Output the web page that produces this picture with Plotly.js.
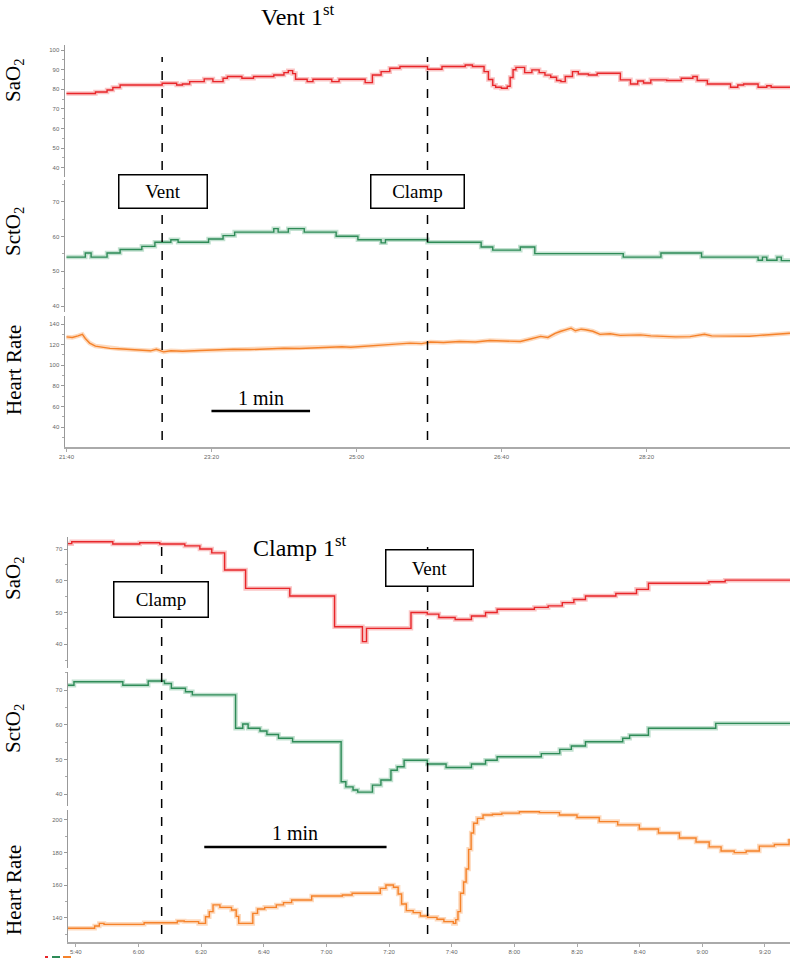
<!DOCTYPE html>
<html>
<head>
<meta charset="utf-8">
<script src="https://cdn.plot.ly/plotly-3.0.1.min.js"></script>
<style>
  html, body { margin: 0; padding: 0; background: #fff; }
  #chart { width: 791px; height: 959px; }
</style>
</head>
<body>
<div id="chart"></div>
<script>
// ---- Vent 1st (time in seconds, 21:40 = 1300) ----
const sa_top_t = [1300,1320,1328,1332,1337,1366,1376,1380,1385,1395,1401,1408,1411,1421,1429,1443,1448,1450,1453,1456,1458,1466,1470,1483,1488,1506,1511,1517,1523,1530,1549,1559,1575,1580,1588,1591,1594,1596,1600,1604,1606,1608,1610,1616,1621,1626,1630,1634,1638,1641,1644,1649,1653,1660,1666,1682,1689,1694,1698,1703,1714,1724,1732,1735,1742,1758,1763,1767,1777,1783,1786,1799];
const sa_top_v = [77.8,78.6,79.6,80.9,82.2,83.1,82.2,82.7,83.9,85.3,83.9,85.6,86.5,85.6,86.5,87.3,87.3,88.5,89.5,88,85.1,83.9,85.1,83.9,85.1,83.4,87.3,89,90.7,91.6,90.2,91.6,92.4,91.6,89,85,82,81,80.5,81.5,86,90,91.2,88.5,89.9,88.5,87.2,86.1,84.5,83.9,86.5,89,87.8,87.3,88.2,84.8,82.7,84.2,83.2,84.8,84.5,85.6,86.5,84.5,82.7,81,82.2,82.7,81,81.8,81,81];

const sct_top_t = [1300,1313,1317,1328,1337,1352,1361,1372,1377,1398,1408,1416,1443,1446,1453,1464,1486,1501,1517,1520,1549,1586,1594,1613,1623,1684,1710,1738,1777,1780,1783,1790,1793,1799];
const sct_top_v = [54.1,55.3,54.1,55.3,56.3,57.2,58.4,59.1,58.4,59.3,60.3,61.3,62.3,61.3,62.3,61.3,60.1,59.1,58.2,59.1,58.4,57,56.1,57,55.1,54.1,55.3,54.1,53.2,54.1,53.2,54.1,53.1,53.1];

const hr_top_t = [1300,1304,1308,1311,1313,1316,1320,1325,1330,1336,1342,1350,1358,1362,1367,1372,1380,1392,1405,1415,1427,1440,1450,1461,1475,1490,1496,1505,1516,1527,1537,1545,1551,1560,1571,1582,1592,1602,1613,1620,1627,1632,1637,1641,1644,1648,1651,1655,1658,1663,1668,1675,1682,1690,1696,1703,1710,1720,1730,1735,1740,1745,1751,1760,1771,1778,1785,1792,1799];
const hr_top_v = [127.5,127,128.5,130,126,121.5,118.6,117.5,116.4,116,115.4,114.5,114,115.5,113,114,113.5,114.3,114.8,115.5,115.2,116,116.5,116.2,117,118,117.5,118.5,120,120.5,121.5,121,122.5,122,123,122.5,124,123.5,123,125.5,128,127,131,133,134,136,133.5,135,134.5,133,130,130.5,129,129.5,129.5,128.5,128,127.5,127.8,129,130,128.5,128.5,128,128.2,129,129.5,130.5,131];

const top_tick_vals = [1300, 1400, 1500, 1600, 1700];
const top_tick_text = ["21:40", "23:20", "25:00", "26:40", "28:20"];
const vent_time_top = 1366;
const clamp_time_top = 1549;

// ---- Clamp 1st (time in seconds, 5:40 = 340) ----
const sa_bot_t = [337.5,338.7,351.8,360.4,366.8,374.8,379.6,383.4,387.5,394.2,408.3,422.6,431.5,432.8,447,452.2,455.9,461.1,466.3,470.8,474.5,486.4,490.8,495.3,499,502.7,512.4,519,522.8,542.1,547.3,568];
const sa_bot_v = [71.7,72.3,71.6,72,71.6,71,70,68.8,63.4,57.6,55.2,45.5,40.8,45,50,49.5,48.4,47.8,48.9,50,51,51.6,52.1,53.1,54.1,55.2,56,57.3,59.2,59.7,60.2,60.2];

const sct_bot_t = [337.5,339.4,355,363.1,368.3,370.5,375,377.2,391,393.3,395,398.8,401,404.7,409.2,424.7,426.2,428.5,430,434.7,437.4,440.6,442.6,444.8,452.2,458.2,466.3,470.8,474.5,488.6,494.5,498.2,502.7,514.6,516.8,522.8,544.3,568];
const sct_bot_v = [71.4,72.4,71.4,72.6,71.9,70.5,69.5,68.6,59,60.2,59,58.2,57.2,56.1,55.1,43.6,42.1,41.2,40.6,42.6,44.1,46.9,47.9,49.8,48.7,47.7,48.7,49.8,50.8,51.7,52.9,53.9,55.1,56.1,57,59,60.4,60.4];

const hr_bot_t = [337.4,346,347.5,349,361.8,372.4,374.6,379.2,381.4,382.6,383.8,386,389.7,391.2,392,396.5,398,400.3,404,406.3,408.9,415.3,425.1,428.2,431.2,437.2,439,441.4,442.9,444,445.5,447.7,450,452.3,455.3,457.5,460.5,461.3,462,462.8,463.8,464.6,465.4,466.2,467,468.2,470,473,476,481.6,488,494.4,500,507.1,513,519.9,526,532.7,538,542.2,546,550.2,554,558.2,563,567.7];
const hr_bot_v = [133.7,135.1,136.7,136.1,137.1,138.2,137.8,136.7,140.8,143.9,148,146.5,144.9,141,136.7,142.8,145.5,146.5,148,149.4,151,153.5,154.1,155.1,155.1,158.1,160.2,158.8,154.7,148.6,144.5,143.3,141.2,140.4,139.2,137.8,136.7,139,143.9,155.1,162,170,182,192,198,201,203,203.5,204.2,205,204.5,203,201.5,199,197,194.5,192,189,186.5,183.5,181,180,181,184,185,188.5];

const bot_tick_vals = [340,360,380,400,420,440,460,480,500,520,540,560];
const bot_tick_text = ["5:40","6:00","6:20","6:40","7:00","7:20","7:40","8:00","8:20","8:40","9:00","9:20"];
const clamp_time_bot = 367.4;
const vent_time_bot = 452.3;

const RED = "#e8262a", GREEN = "#2e8b57", ORANGE = "#f5822a";
const HALO = { [RED]: "rgba(240,90,90,0.35)", [GREEN]: "rgba(80,170,120,0.35)", [ORANGE]: "rgba(250,160,90,0.4)" };

const W = 791, H = 959;
const px = (x) => x / W;
const py = (y) => 1 - y / H;

const series = (x, y, color, xa, ya, shape) => [
    { x, y, xaxis: xa, yaxis: ya, mode: "lines", type: "scatter", hoverinfo: "skip",
      line: { color: HALO[color], width: 4.5, shape } },
    { x, y, xaxis: xa, yaxis: ya, mode: "lines", type: "scatter", hoverinfo: "skip",
      line: { color, width: 1.4, shape } },
];

const tick_font = { family: "Liberation Sans, Arial", size: 6, color: "#666" };

const y_axis = (domain, range, dtick, minor_dtick, anchor) => ({
    domain, range, dtick, anchor,
    showline: true, linecolor: "#999", linewidth: 1.5,
    ticks: "outside", ticklen: 3, tickcolor: "#999", tickwidth: 1,
    tickfont: tick_font, showgrid: false, zeroline: false, fixedrange: true,
    minor: { dtick: minor_dtick, ticks: "outside", ticklen: 2, tickcolor: "#aaa", showgrid: false },
});

const x_axis = (domain, range, tickvals, ticktext, anchor) => ({
    domain, range, tickvals, ticktext, anchor,
    showline: true, linecolor: "#aaa", linewidth: 1.5,
    ticks: "outside", ticklen: 3, tickcolor: "#aaa",
    tickfont: tick_font, showgrid: false, zeroline: false, fixedrange: true,
});

const serif = (size) => ({ family: "Liberation Serif, Times New Roman, serif", size, color: "#000" });

const label = (text, y) => ({
    text, xref: "paper", yref: "paper", x: px(14), y: py(y), textangle: -90,
    showarrow: false, font: serif(21), xanchor: "center", yanchor: "middle",
});

const box = (text, cx, cy, w, h) => ({
    text, xref: "paper", yref: "paper", x: px(cx), y: py(cy), showarrow: false,
    width: w, height: h, bordercolor: "#000", borderwidth: 1.5, borderpad: 0,
    bgcolor: "#fff", font: serif(19), xanchor: "center", yanchor: "middle",
});

const dashed = (t, xref, y_from, y_to) => ({
    type: "line", xref, yref: "paper", x0: t, x1: t, y0: py(y_from), y1: py(y_to),
    line: { color: "#000", width: 1.5, dash: "dash" },
});

const plot_vent_clamp_chart = (chartId) => {
    const data = [
        ...series(sa_top_t, sa_top_v, RED, "x", "y", "hv"),
        ...series(sct_top_t, sct_top_v, GREEN, "x", "y2", "hv"),
        ...series(hr_top_t, hr_top_v, ORANGE, "x", "y3", "linear"),
        ...series(sa_bot_t, sa_bot_v, RED, "x2", "y4", "hv"),
        ...series(sct_bot_t, sct_bot_v, GREEN, "x2", "y5", "hv"),
        ...series(hr_bot_t, hr_bot_v, ORANGE, "x2", "y6", "hv"),
    ];

    const layout = {
        width: W, height: H,
        margin: { l: 0, r: 0, t: 0, b: 0 },
        paper_bgcolor: "#fff", plot_bgcolor: "rgba(0,0,0,0)",
        showlegend: false,
        xaxis: x_axis([px(65), px(790)], [1299, 1799], top_tick_vals, top_tick_text, "y3"),
        xaxis2: x_axis([px(68), px(790)], [337.5, 568], bot_tick_vals, bot_tick_text, "y6"),
        yaxis: y_axis([py(177), py(45)], [35.2, 102.6], 10, 5, "x"),
        yaxis2: y_axis([py(312), py(180)], [38.3, 76.3], 10, 5, "x"),
        yaxis3: y_axis([py(447), py(316)], [20.6, 147.8], 20, 10, "x"),
        yaxis4: y_axis([py(668), py(537)], [32.5, 73.8], 10, 5, "x2"),
        yaxis5: y_axis([py(806), py(672)], [36.6, 75.2], 10, 5, "x2"),
        yaxis6: y_axis([py(942), py(810)], [125.3, 206.1], 20, 10, "x2"),
        shapes: [
            dashed(vent_time_top, "x", 440, 57),
            dashed(clamp_time_top, "x", 440, 57),
            dashed(clamp_time_bot, "x2", 934, 543),
            dashed(vent_time_bot, "x2", 934, 543),
            // 1 min scale bars
            { type: "line", xref: "x", yref: "y3", x0: 1400, x1: 1468, y0: 55.5, y1: 55.5, line: { color: "#000", width: 2.5 } },
            { type: "line", xref: "x2", yref: "y6", x0: 381, x1: 439.2, y0: 183.4, y1: 183.4, line: { color: "#000", width: 2.5 } },
            // tiny legend marks
            { type: "line", xref: "paper", yref: "paper", x0: px(45), x1: px(48), y0: py(957), y1: py(957), line: { color: RED, width: 2 } },
            { type: "line", xref: "paper", yref: "paper", x0: px(52), x1: px(60), y0: py(957), y1: py(957), line: { color: GREEN, width: 2 } },
            { type: "line", xref: "paper", yref: "paper", x0: px(63), x1: px(71), y0: py(957), y1: py(957), line: { color: ORANGE, width: 2 } },
        ],
        annotations: [
            { text: "Vent 1<sup>st</sup>", xref: "paper", yref: "paper", x: px(298), y: py(15), showarrow: false, font: serif(24), xanchor: "center", yanchor: "middle" },
            { text: "Clamp 1<sup>st</sup>", xref: "paper", yref: "paper", x: px(300), y: py(546), showarrow: false, font: serif(24), xanchor: "center", yanchor: "middle" },
            label("SaO<sub>2</sub>", 80),
            label("SctO<sub>2</sub>", 232),
            label("Heart Rate", 370),
            label("SaO<sub>2</sub>", 578),
            label("SctO<sub>2</sub>", 729),
            label("Heart Rate", 890),
            box("Vent", 162.5, 192, 87, 32),
            box("Clamp", 417, 192, 92, 32),
            box("Clamp", 161, 599, 93, 34),
            box("Vent", 429, 568, 86, 35),
            { text: "1 min", xref: "x", yref: "y3", x: 1434, y: 68.2, showarrow: false, font: serif(20), xanchor: "center", yanchor: "middle" },
            { text: "1 min", xref: "x2", yref: "y6", x: 410, y: 192, showarrow: false, font: serif(20), xanchor: "center", yanchor: "middle" },
        ],
    };

    Plotly.newPlot(chartId, data, layout, { staticPlot: true, displayModeBar: false });
};

plot_vent_clamp_chart("chart");
</script>
</body>
</html>
